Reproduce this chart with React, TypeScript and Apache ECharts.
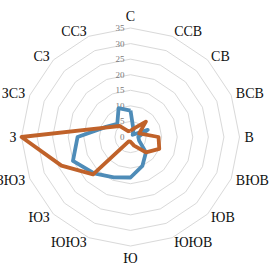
import React, { useEffect, useRef } from "react";
import * as echarts from "echarts";

// Clockwise from north
const directions = ["С", "ССВ", "СВ", "ВСВ", "В", "ВЮВ", "ЮВ", "ЮЮВ", "Ю", "ЮЮЗ", "ЮЗ", "ЗЮЗ", "З", "ЗСЗ", "СЗ", "ССЗ"];
const blueValues = [8.5, 2.5, 1, 6, 2.5, 3, 7, 10, 13, 14, 16.5, 20, 17, 8.5, 6, 10];
const orangeValues = [2, 3, 7, 3, 9, 10, 7, 3, 1.5, 1.5, 17, 24, 35, 8, 5, 2];
const axisMax = 35;
const axisSteps = 7;

// ECharts radar runs counter-clockwise: reorder so the chart reads clockwise
function ccw<T>(arr: T[]): T[] {
  return [arr[0], ...arr.slice(1).reverse()];
}

const serif = "Liberation Serif";

export default function App() {
  const ref = useRef<HTMLDivElement>(null);
  useEffect(() => {
    const chart = echarts.init(ref.current!, null, { renderer: "svg" });
    chart.setOption({
      animation: false,
      backgroundColor: "#ffffff",
      textStyle: { fontFamily: serif },
      radar: {
        center: [130.5, 137],
        radius: 109,
        startAngle: 90,
        shape: "polygon",
        splitNumber: axisSteps,
        nameGap: 5,
        axisName: {
          color: "#111111",
          fontFamily: serif,
          fontSize: 14,
        },
        axisLine: { show: false },
        axisTick: { show: false },
        axisLabel: { show: false },
        splitLine: { lineStyle: { color: "#d9d9d9", width: 1 } },
        splitArea: { show: false },
        indicator: ccw(directions).map((d, i) => ({
          name: d,
          min: 0,
          max: axisMax,
          ...(i === 0
            ? {
                axisLabel: {
                  show: true,
                  color: "#7a7a7a",
                  fontFamily: serif,
                  fontSize: 9,
                  margin: 6,
                  showMaxLabel: true,
                  showMinLabel: true,
                },
              }
            : {}),
        })),
      },
      series: [
        {
          type: "radar",
          symbol: "none",
          data: [
            { value: ccw(blueValues), name: "blue", lineStyle: { color: "#4e8cb8", width: 3.8 } },
            { value: ccw(orangeValues), name: "orange", lineStyle: { color: "#c0622a", width: 3.8 } },
          ],
        },
      ],
    });
    return () => chart.dispose();
  }, []);
  return <div ref={ref} style={{ position: "absolute", left: 0, top: 0, width: 270, height: 266 }} />;
}
